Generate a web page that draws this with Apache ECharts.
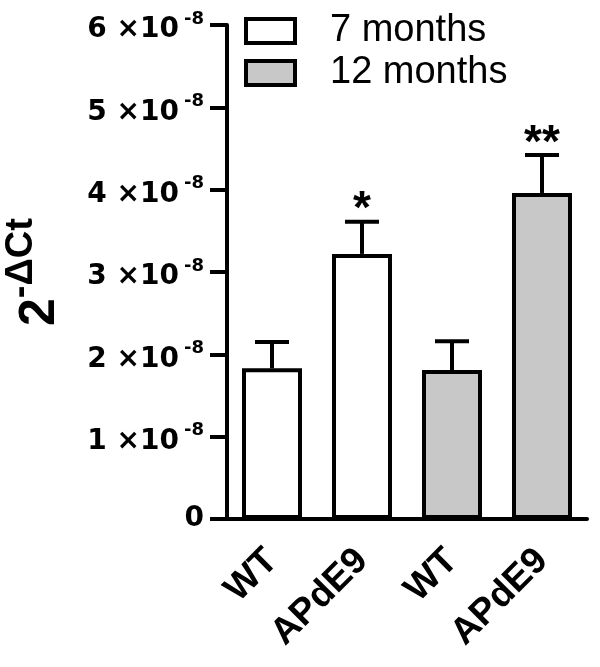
<!DOCTYPE html>
<html>
<head>
<meta charset="utf-8">
<script src="https://cdn.jsdelivr.net/npm/echarts@6/dist/echarts.min.js"></script>
<style>
  html, body { margin: 0; padding: 0; background: #fff; }
  #chart { width: 600px; height: 667px; }
</style>
</head>
<body>
<div id="chart"></div>
<script>
// values in units of 1e-8
const categories = ['WT', 'APdE9', 'WT', 'APdE9'];
const months7 = [1.83, 3.22, '-', '-'];
const months12 = ['-', '-', 1.81, 3.96];
const means = [1.83, 3.22, 1.81, 3.96];
const errUp = [0.32, 0.39, 0.35, 0.46];
const stars = ['', '*', '', '**'];
const yTickValues = [0, 1, 2, 3, 4, 5, 6];

const chart = echarts.init(document.getElementById('chart'));

const errData = means.map((m, i) => [i, m, m + errUp[i], stars[i]]);

const option = {
  animation: false,
  textStyle: { fontFamily: 'Liberation Sans', color: '#000' },
  grid: { left: 227, right: 13, top: 25, bottom: 148, containLabel: false, outerBoundsMode: 'none' },
  legend: {
    orient: 'vertical',
    left: 244,
    top: 12,
    padding: 0,
    itemWidth: 49,
    itemHeight: 24,
    itemGap: 4,
    icon: 'rect',
    selectedMode: false,
    itemStyle: { borderColor: '#000', borderWidth: 4 },
    textStyle: { fontSize: 38, lineHeight: 38, color: '#000', padding: [0, 0, 0, 30] },
    data: ['7 months', '12 months']
  },
  xAxis: {
    type: 'category',
    data: categories,
    axisLine: { lineStyle: { color: '#000', width: 4 } },
    axisTick: { alignWithLabel: true, length: 16, lineStyle: { color: '#000', width: 4 } },
    axisLabel: {
      rotate: 45,
      margin: 36,
      fontSize: 37,
      fontWeight: 'bold',
      color: '#000'
    }
  },
  yAxis: {
    type: 'value',
    min: 0,
    max: 6,
    interval: 1,
    splitLine: { show: false },
    axisLine: { show: true, lineStyle: { color: '#000', width: 4 } },
    axisTick: { show: true, length: 17, lineStyle: { color: '#000', width: 4 } },
    axisLabel: {
      margin: 23,
      color: '#000',
      formatter: function (v) {
        if (yTickValues.indexOf(v) < 0) return '';
        if (v === 0) return '{z|0}';
        return '{n|' + v + ' ×10}{s|-8}';
      },
      rich: {
        z: { fontFamily: 'DejaVu Sans', fontWeight: 'bold', fontSize: 28, color: '#000' },
        n: { fontFamily: 'DejaVu Sans', fontWeight: 'bold', fontSize: 28, color: '#000', verticalAlign: 'bottom', padding: [10, 0, 0, 0] },
        s: { fontFamily: 'DejaVu Sans', fontWeight: 'bold', fontSize: 18, color: '#000', verticalAlign: 'bottom', padding: [0, 0, 16, 5] }
      }
    },
    name: '{b|2}{s|-ΔCt}',
    nameLocation: 'middle',
    nameRotate: 90,
    nameGap: 162,
    nameTextStyle: {
      rich: {
        b: { fontFamily: 'Liberation Sans', fontWeight: 'bold', fontSize: 50, color: '#000', verticalAlign: 'bottom' },
        s: { fontFamily: 'Liberation Sans', fontWeight: 'bold', fontSize: 38, color: '#000', verticalAlign: 'bottom', padding: [0, 0, 24, 0] }
      }
    }
  },
  series: [
    {
      name: '7 months',
      type: 'bar',
      data: months7,
      barWidth: 60,
      barGap: '-100%',
      itemStyle: { color: '#ffffff', borderColor: '#000', borderWidth: 4 }
    },
    {
      name: '12 months',
      type: 'bar',
      data: months12,
      barWidth: 60,
      barGap: '-100%',
      itemStyle: { color: '#c8c8c8', borderColor: '#000', borderWidth: 4 }
    },
    {
      type: 'custom',
      data: errData,
      z: 3,
      renderItem: function (params, api) {
        const i = api.value(0);
        const top = api.coord([i, api.value(1)]);
        const hi = api.coord([i, api.value(2)]);
        const star = stars[i];
        const style = { stroke: '#000', lineWidth: 4 };
        const children = [
          { type: 'line', shape: { x1: top[0], y1: top[1], x2: hi[0], y2: hi[1] }, style: style },
          { type: 'line', shape: { x1: hi[0] - 17, y1: hi[1], x2: hi[0] + 17, y2: hi[1] }, style: style }
        ];
        if (star) {
          children.push({
            type: 'text',
            style: {
              text: star,
              x: hi[0],
              y: hi[1] - 11,
              align: 'center',
              verticalAlign: 'middle',
              fontFamily: 'Liberation Sans',
              fontWeight: 'bold',
              fontSize: 46,
              fill: '#000'
            }
          });
        }
        return { type: 'group', children: children };
      }
    }
  ]
};

chart.setOption(option);
</script>
</body>
</html>
